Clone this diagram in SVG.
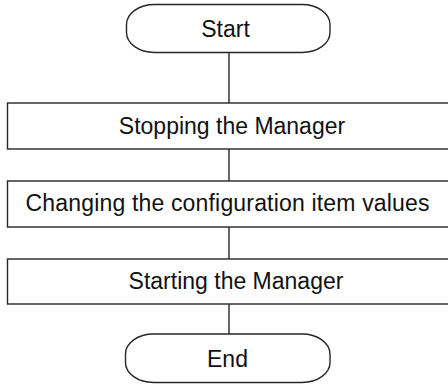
<svg xmlns="http://www.w3.org/2000/svg" width="448" height="385" viewBox="0 0 448 385">
<style>
.shape{fill:#fff;stroke:#262626;stroke-width:1.4}
.conn{stroke:#262626;stroke-width:1.4;fill:none}
.lbl{font-family:"Liberation Sans",Arial,sans-serif;font-size:23px;fill:#111;text-anchor:middle}
</style>
<rect width="448" height="385" fill="#fff"/>
<g id="connectors">
<line class="conn" x1="229" y1="52" x2="229" y2="103"/>
<line class="conn" x1="229" y1="149" x2="229" y2="181"/>
<line class="conn" x1="229" y1="227" x2="229" y2="259"/>
<line class="conn" x1="229" y1="304" x2="229" y2="334"/>
</g>
<g id="start">
<rect class="shape" x="126.5" y="4.5" width="203.5" height="48" rx="28" ry="20"/>
<text class="lbl" x="225.5" y="36.5">Start</text>
</g>
<g id="stop-manager">
<rect class="shape" x="7.5" y="103" width="445" height="46"/>
<text class="lbl" x="232" y="134">Stopping the Manager</text>
</g>
<g id="change-values">
<rect class="shape" x="7.5" y="181" width="445" height="46"/>
<text class="lbl" x="227.5" y="211" textLength="404">Changing the configuration item values</text>
</g>
<g id="start-manager">
<rect class="shape" x="7.5" y="259" width="445" height="45"/>
<text class="lbl" x="236" y="289">Starting the Manager</text>
</g>
<g id="end">
<rect class="shape" x="125.5" y="334" width="204.5" height="48.5" rx="28" ry="20"/>
<text class="lbl" x="227.5" y="366.5">End</text>
</g>
</svg>
